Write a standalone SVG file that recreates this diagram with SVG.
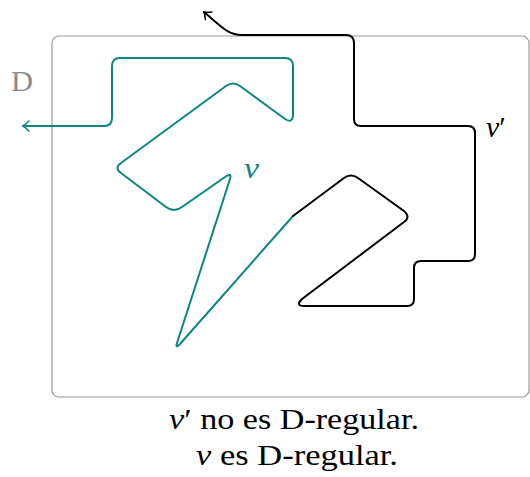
<svg xmlns="http://www.w3.org/2000/svg" width="530" height="477" viewBox="0 0 530 477">
<style>
.frame{fill:none;stroke:#9a9a9a;stroke-width:1.2}
.teal{fill:none;stroke:#0a8585;stroke-width:2;stroke-linejoin:round;stroke-linecap:round}
.blk{fill:none;stroke:#000;stroke-width:2;stroke-linejoin:round;stroke-linecap:round}
.lbl{font-family:"Liberation Serif",serif;font-size:30px}
.it{font-style:italic}
</style>
<defs>
<marker id="arrT" viewBox="-8 -6 10 12" refX="0" refY="0" markerWidth="10" markerHeight="12" markerUnits="userSpaceOnUse" orient="auto-start-reverse">
<path d="M-6,-5 Q-2,-1.2 0,0 Q-2,1.2 -6,5" fill="none" stroke="#0a8585" stroke-width="1.6" stroke-linecap="round"/>
</marker>
<marker id="arrB" viewBox="-8 -6 10 12" refX="0" refY="0" markerWidth="10" markerHeight="12" markerUnits="userSpaceOnUse" orient="auto">
<path d="M-6,-5 Q-2,-1.2 0,0 Q-2,1.2 -6,5" fill="none" stroke="#000" stroke-width="1.6" stroke-linecap="round"/>
</marker>
</defs>
<g id="region">
<rect class="frame" x="52" y="36" width="477" height="361" rx="7"/>
<text class="lbl" x="11" y="91" fill="#8a8a8a" textLength="22" lengthAdjust="spacingAndGlyphs">D</text>
</g>
<g id="connectors">
<path id="v" class="teal" marker-start="url(#arrT)" d="M23,126 H104 Q112,126 112,118 V66 Q112,58 120,58 H285 Q293,58 293,66 V114 Q293,124 285,119 L240,86 Q233,81 226,86 L121,163 Q114,168 121,173 L166,207 Q174,213 182,207 L225,177 Q232,172 230,179 L177,343 Q175,349 180,344 L293,216"/>
<path id="vprime" class="blk" marker-end="url(#arrB)" d="M293,216 L344,178 Q351,173 358,178 L404,211 Q411,217 404,222 L302,299 Q295,306 304,306 H407 Q414,306 414,299 V268 Q414,261 421,261 H468 Q475,261 475,254 V133 Q475,126 468,126 H361 Q354,126 354,119 V43 Q354,35 346,35 H242 C228,35 222,27 204,12"/>
</g>
<g id="labels">
<text class="lbl it" x="244" y="178" fill="#0a8585" textLength="15" lengthAdjust="spacingAndGlyphs">v</text>
<text class="lbl" x="486" y="137" fill="#000"><tspan class="it">v</tspan>′</text>
<text class="lbl" x="169" y="429" fill="#000" textLength="250" lengthAdjust="spacingAndGlyphs"><tspan class="it">v</tspan>′ no es D-regular.</text>
<text class="lbl" x="196" y="465" fill="#000" textLength="202" lengthAdjust="spacingAndGlyphs"><tspan class="it">v</tspan> es D-regular.</text>
</g>
</svg>
